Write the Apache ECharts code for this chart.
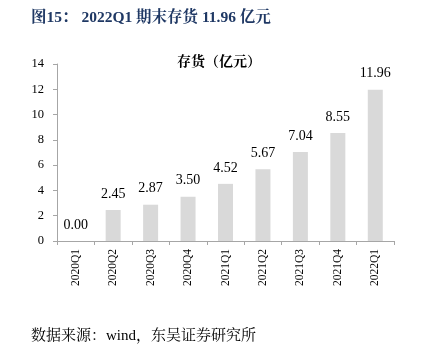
<!DOCTYPE html>
<html><head><meta charset="utf-8">
<script src="https://cdn.jsdelivr.net/npm/echarts@6/dist/echarts.min.js"></script>
<style>html,body{margin:0;padding:0;background:#fff;}#c{width:428px;height:349px;}</style>
</head><body><div id="c"></div>
<script>
const categories = ['2020Q1','2020Q2','2020Q3','2020Q4','2021Q1','2021Q2','2021Q3','2021Q4','2022Q1'];
const inventory = [0.00, 2.45, 2.87, 3.50, 4.52, 5.67, 7.04, 8.55, 11.96];
const yTicks = [0, 2, 4, 6, 8, 10, 12, 14];
const serif = '"Liberation Serif", "Noto Serif CJK SC", "Noto Sans CJK SC", serif';
const chart = echarts.init(document.getElementById('c'));
chart.setOption({
  animation: false,
  title: [
    {text: '图15： 2022Q1 期末存货 11.96 亿元', left: 26, top: 5,
     textStyle: {fontFamily: serif, fontSize: 15.5, fontWeight: 'bold', color: '#1f3864'}},
    {text: '存货（亿元）', left: 214, top: 50, textAlign: 'center',
     textStyle: {fontFamily: serif, fontSize: 14, fontWeight: 'bold', color: '#000'}},
    {text: '数据来源：wind，东吴证券研究所', left: 26, top: 324,
     textStyle: {fontFamily: serif, fontSize: 15, fontWeight: 'normal', color: '#000'}}
  ],
  grid: {left: 57, top: 64, width: 337, height: 177},
  xAxis: {
    type: 'category', data: categories,
    axisLine: {lineStyle: {color: '#a6a6a6'}},
    axisTick: {show: true, length: 4, lineStyle: {color: '#a6a6a6'}},
    axisLabel: {rotate: 90, fontFamily: serif, fontSize: 11.5, color: '#000', margin: 8}
  },
  yAxis: {
    type: 'value', min: 0, max: 14, interval: 2,
    axisLine: {show: true, lineStyle: {color: '#a6a6a6'}},
    axisTick: {show: true, length: 4, lineStyle: {color: '#a6a6a6'}},
    splitLine: {show: false},
    axisLabel: {fontFamily: serif, fontSize: 12.5, color: '#000', margin: 13,
      formatter: v => yTicks.includes(v) ? String(v) : ''}
  },
  series: [{
    type: 'bar', data: inventory, barWidth: 15,
    itemStyle: {color: '#d9d9d9'},
    label: {show: true, position: 'top', distance: 9, fontFamily: serif, fontSize: 14, color: '#000',
      formatter: p => p.value.toFixed(2)}
  }]
});
</script></body></html>
